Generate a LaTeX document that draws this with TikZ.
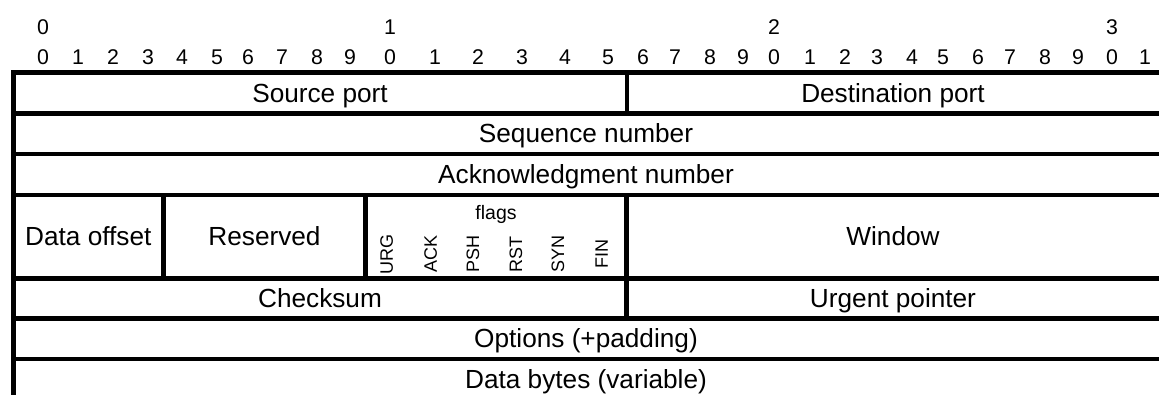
\documentclass[tikz,border=0pt]{standalone}
\usepackage{fontspec}
\setmainfont{Liberation Sans}
\begin{document}
\begin{tikzpicture}[x=1pt,y=-1pt,
  rule/.style={line width=4.5pt, line cap=butt},
  field/.style={font=\fontsize{26.2}{30}\selectfont, inner sep=0pt, anchor=base},
  bitnum/.style={font=\fontsize{21.3}{24}\selectfont, inner sep=0pt, anchor=base},
  flagname/.style={font=\fontsize{18}{20}\selectfont, inner sep=0pt, rotate=90, anchor=center},
  flaghead/.style={font=\fontsize{19.5}{22}\selectfont, inner sep=0pt, anchor=base}]
\useasboundingbox (0,0) rectangle (1159,394);

% bit ruler: tens digits
\node[bitnum] (t0) at (43,34) {0};
\node[bitnum] (t1) at (390,34) {1};
\node[bitnum] (t2) at (774,34) {2};
\node[bitnum] (t3) at (1112,34) {3};

% bit ruler: unit digits, bits 0..31
\foreach \x [count=\i from 0] in {43,78,113,148,182,217,248,282,317,350,
                                  390,435,478,522,565,608,643,675,710,743,
                                  774,810,845,877,912,943,978,1010,1045,1078,
                                  1112,1145}{
  \pgfmathtruncatemacro{\d}{mod(\i,10)}
  \node[bitnum] (b\i) at (\x,64) {\d};
}

% horizontal rules between header words
\foreach \y in {72.7,113.3,154,195,278.3,318.3,359}
  \draw[rule] (11.05,\y) -- (1170,\y);
% left edge
\draw[rule] (13.3,70.45) -- (13.3,400);
% field dividers
\draw[rule] (627,72.7) -- (627,113.3);
\draw[rule] (163.3,195) -- (163.3,278.3);
\draw[rule] (365.7,195) -- (365.7,278.3);
\draw[rule] (626.5,195) -- (626.5,318.3);

% field names
\node[field] (src)  at (320,102)   {Source port};
\node[field] (dst)  at (893,102)   {Destination port};
\node[field] (seq)  at (586,142.7) {Sequence number};
\node[field] (ack)  at (586,183.5) {Acknowledgment number};
\node[field] (off)  at (88.3,245.7){Data offset};
\node[field] (res)  at (264.5,245.7){Reserved};
\node[field] (win)  at (893,245.7) {Window};
\node[field] (chk)  at (320,307.3) {Checksum};
\node[field] (urg)  at (893,307.3) {Urgent pointer};
\node[field] (opt)  at (586,347.7) {Options (+padding)};
\node[field] (data) at (586,388)   {Data bytes (variable)};

% control flags
\node[flaghead] (flags) at (496,219) {flags};
\node[flagname] (fURG) at (386.7,254) {URG};
\node[flagname] (fACK) at (430.7,254) {ACK};
\node[flagname] (fPSH) at (473,254)   {PSH};
\node[flagname] (fRST) at (516,254)   {RST};
\node[flagname] (fSYN) at (558,254)   {SYN};
\node[flagname] (fFIN) at (601.7,254) {FIN};
\end{tikzpicture}
\end{document}
